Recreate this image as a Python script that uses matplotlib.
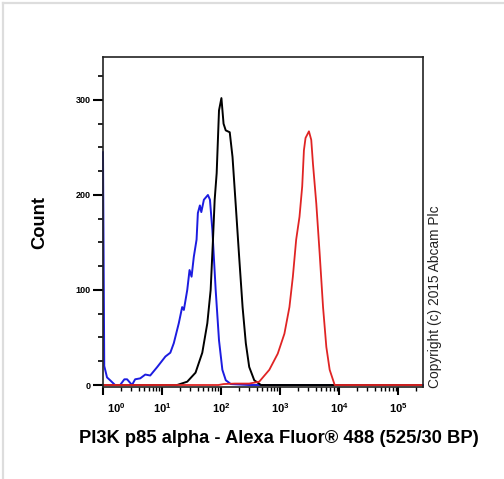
import matplotlib
matplotlib.use("Agg")
import matplotlib.pyplot as plt
from matplotlib.lines import Line2D
from matplotlib.ticker import FixedLocator, LogLocator, NullFormatter

plt.rcParams['font.family'] = ['Liberation Sans', 'DejaVu Sans']
plt.rcParams['mathtext.fontset'] = 'custom'
plt.rcParams['mathtext.bf'] = 'Liberation Sans:bold'
plt.rcParams['mathtext.rm'] = 'Liberation Sans:bold'

# isotype / unlabelled control (blue)
blue_x = [1.0, 1.05, 1.17, 1.32, 1.6, 1.95, 2.3, 2.56, 3.1, 3.5, 4.27, 5.2, 6.3, 8.3,
          11.4, 13.8, 15.8, 19.2, 21.9, 23.4, 26.7, 29.2, 31.6, 34.5, 38.4, 40.4,
          43.7, 46.2, 51.1, 59.8, 64.7, 71.1, 80.9, 92.1, 105, 120, 146, 300, 262144]
blue_y = [245, 20, 8, 5, 0, 0, 6, 6, 0, 6, 7, 11, 10, 19,
          30, 34, 44, 65, 82, 79, 100, 121, 114, 135, 153, 181,
          189, 182, 195, 200, 195, 163, 100, 47, 16, 5, 1, 0, 0]

# secondary only (black)
black_x = [1.0, 9.4, 18.0, 26.7, 36.9, 48.0, 58.4, 66.5, 72.8, 77.8, 84.1, 92.1,
           101.2, 110, 119.7, 140, 156, 177.5, 202, 231, 262, 299, 364, 473, 262144]
black_y = [0, 0, 0, 3.5, 13, 34, 65, 100, 153, 195, 223, 289,
           302, 275, 268, 266, 240, 188, 135, 82, 44, 19, 5, 0, 0]

# PI3K p85 alpha stained (red)
red_x = [1.0, 90, 110, 170, 299, 442, 655, 910, 1180, 1435, 1640, 1866, 2124,
         2361, 2524, 2688, 3070, 3360, 3590, 4090, 4656, 5320, 6050, 6890, 8380,
         262144]
red_y = [0, 0, 1, 1.5, 1.5, 3.5, 16, 33, 54, 82, 114, 153, 177,
         209, 247, 260, 267, 258, 233, 191, 139, 82, 40, 16, 0,
         0]

x_major = [10, 100, 1000, 10000, 100000]
x_major_labels = [r'$\mathbf{10^{1}}$', r'$\mathbf{10^{2}}$', r'$\mathbf{10^{3}}$',
                  r'$\mathbf{10^{4}}$', r'$\mathbf{10^{5}}$']
y_major = [0, 100, 200, 300]

fig = plt.figure(figsize=(5.04, 4.79), dpi=100)
ax = fig.add_axes([103/504, 1 - 387/479, 320/504, 329.5/479])

ax.plot(blue_x, blue_y, color='#1c1ce0', lw=1.4, clip_on=False)
ax.plot(black_x, black_y, color='black', lw=1.4)
ax.plot(red_x, red_y, color='#e02424', lw=1.3)

ax.set_xscale('log')
ax.set_xlim(1, 262144)
ax.set_ylim(-2.1, 344.7)

ax.xaxis.set_major_locator(FixedLocator([1] + x_major))
ax.set_xticklabels([''] + x_major_labels)
ax.xaxis.set_minor_locator(LogLocator(base=10, subs=range(2, 10), numticks=20))
ax.xaxis.set_minor_formatter(NullFormatter())

ax.set_yticks(y_major)
ax.set_yticklabels([str(v) for v in y_major])
ax.set_yticks(range(25, 345, 25), minor=True)

ax.tick_params(axis='x', which='major', length=6, width=1.5, pad=4, labelsize=8)
ax.tick_params(axis='x', which='minor', length=3, width=1.0)
ax.tick_params(axis='y', which='major', length=7, width=1.5, pad=2, labelsize=6.5)
ax.tick_params(axis='y', which='minor', length=3.5, width=1.2)
for lab in ax.get_yticklabels():
    lab.set_fontweight('bold')

for s in ax.spines.values():
    s.set_linewidth(1.2)
    s.set_color('#222222')

# the 10^0 label sits a little to the right of its tick
ax.annotate(r'$\mathbf{10^{0}}$', xy=(1.67, 0), xycoords=('data', 'axes fraction'),
            xytext=(0, -10), textcoords='offset points', ha='center', va='top',
            fontsize=8)

ax.set_ylabel('Count', fontsize=13.2, fontweight='bold')
ax.yaxis.set_label_coords(-0.172, 0.5)
ax.set_xlabel('PI3K p85 alpha - Alexa Fluor® 488 (525/30 BP)', fontsize=13.2,
              fontweight='bold')
ax.xaxis.set_label_coords(0.55, -0.13)

fig.text(435/504, 1 - 297/479, 'Copyright (c) 2015 Abcam Plc', rotation=90,
         fontsize=9.9, ha='center', va='center', color='#222222')

# light grey frame of the screenshot (top and left)
fig.add_artist(Line2D([3/504, 1], [1 - 3/479, 1 - 3/479], color='#dddddd', lw=1.6))
fig.add_artist(Line2D([3/504, 3/504], [0, 1 - 3/479], color='#dddddd', lw=1.6))

fig.savefig('out.png', dpi=100)
